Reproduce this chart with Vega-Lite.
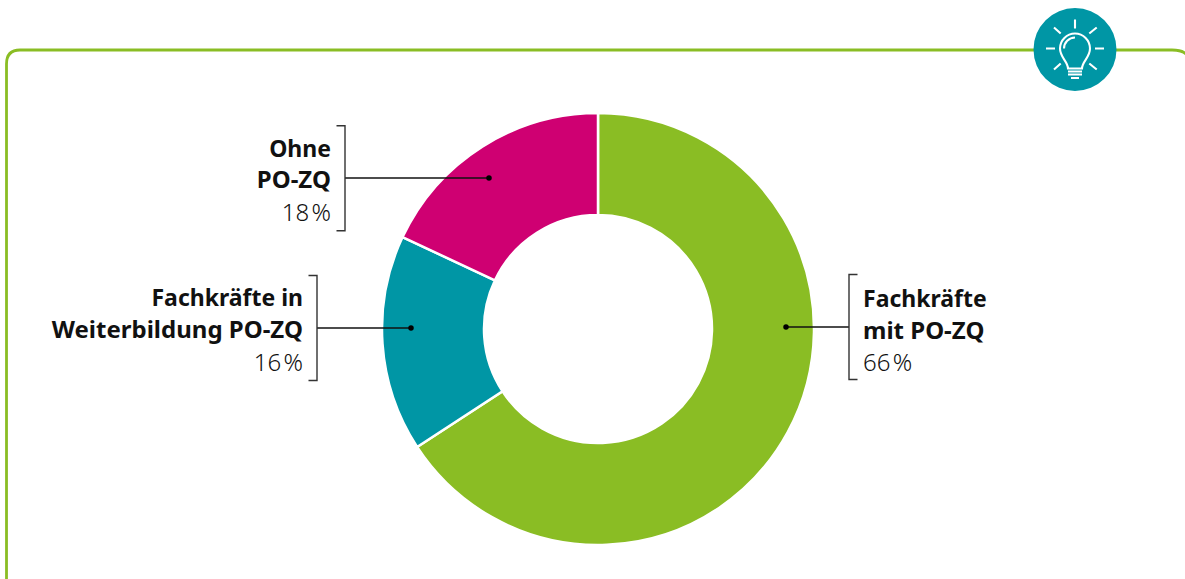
{"$schema":"https://vega.github.io/schema/vega-lite/v6.json","width":1185,"height":579,"padding":0,"autosize":{"type":"none"},"background":"white","config":{"view":{"stroke":null},"axis":{"disable":true},"legend":{"disable":true},"text":{"font":"Noto Sans","fontSize":23,"color":"#111111"}},
"data":{"values":[
{"segment":"Fachkräfte mit PO-ZQ","share":65.8,"rank":1,"line1":"Fachkräfte","line2":"mit PO-ZQ","pct":"66\u200a%"},
{"segment":"Fachkräfte in Weiterbildung PO-ZQ","share":16.2,"rank":2,"line1":"Fachkräfte in","line2":"Weiterbildung PO-ZQ","pct":"16\u200a%"},
{"segment":"Ohne PO-ZQ","share":18,"rank":3,"line1":"Ohne","line2":"PO-ZQ","pct":"18\u200a%"}]},
"layer":[
{"data":{"values":[{"part":"frame"}]},"mark":{"type":"point","shape":"M6.5 579V64Q6.5 50 20 50H1172Q1182 50 1186 54","size":4,"filled":false,"stroke":"#8abd24","strokeWidth":2.8,"opacity":1},
"encoding":{"x":{"datum":0,"type":"quantitative","scale":{"domain":[0,1185],"range":[0,1185]}},"y":{"datum":0,"type":"quantitative","scale":{"domain":[0,579],"range":[0,579]}}}},
{"data":{"values":[{"part":"icon"}]},"mark":{"type":"point","shape":"circle","size":6889,"filled":true,"fill":"#0096a5","opacity":1},
"encoding":{"x":{"datum":1075,"type":"quantitative","scale":{"domain":[0,1185],"range":[0,1185]}},"y":{"datum":49.5,"type":"quantitative","scale":{"domain":[0,579],"range":[0,579]}}}},
{"data":{"values":[{"part":"bulb"}]},"mark":{"type":"point","shape":"M0 -30V-21M-29 -1H-20M20 -1H29M-21 -22L-14.3 -16M21.7 -22L14.3 -16M-21 20L-14.3 14M21.7 20L14.3 14M-7 19C-7 12 -15 8 -15 -1A15 15 0 1 1 15 -1C15 8 7 12 7 19ZM-11 -1A11 11 0 0 1 0 -12M-7 22H7M-7 25H7M-4 28.5H4","size":4,"filled":false,"stroke":"white","strokeWidth":2.1,"opacity":1},
"encoding":{"x":{"datum":1075,"type":"quantitative","scale":{"domain":[0,1185],"range":[0,1185]}},"y":{"datum":49.5,"type":"quantitative","scale":{"domain":[0,579],"range":[0,579]}}}},
{"mark":{"type":"arc","outerRadius":216,"innerRadius":114,"stroke":"white","strokeWidth":2.5},
"encoding":{"theta":{"field":"share","type":"quantitative","stack":true,"scale":{"domain":[0,100]}},"order":{"field":"rank","type":"ordinal"},
"color":{"field":"segment","type":"nominal","sort":["Fachkräfte mit PO-ZQ","Fachkräfte in Weiterbildung PO-ZQ","Ohne PO-ZQ"],"scale":{"domain":["Fachkräfte mit PO-ZQ","Fachkräfte in Weiterbildung PO-ZQ","Ohne PO-ZQ"],"range":["#8abd24","#0096a5","#cf0072"]}},
"x":{"datum":598,"type":"quantitative","scale":{"domain":[0,1185],"range":[0,1185]}},"y":{"datum":329,"type":"quantitative","scale":{"domain":[0,579],"range":[0,579]}}}},
{"transform":[{"filter":"datum.rank==1"}],"layer":[
{"mark":{"type":"rule","color":"#111111","strokeWidth":1.3},"encoding":{"x":{"datum":786,"type":"quantitative","scale":{"domain":[0,1185],"range":[0,1185]}},"x2":{"datum":849},"y":{"datum":327,"type":"quantitative","scale":{"domain":[0,579],"range":[0,579]}}}},
{"mark":{"type":"point","shape":"circle","size":30,"filled":true,"fill":"#000000","opacity":1},"encoding":{"x":{"datum":786,"type":"quantitative","scale":{"domain":[0,1185],"range":[0,1185]}},"y":{"datum":327,"type":"quantitative","scale":{"domain":[0,579],"range":[0,579]}}}},
{"mark":{"type":"point","shape":"M8.5 -52.5H0V52.5H8.5","size":4,"filled":false,"stroke":"#333333","strokeWidth":1.4,"opacity":1},"encoding":{"x":{"datum":849,"type":"quantitative","scale":{"domain":[0,1185],"range":[0,1185]}},"y":{"datum":327,"type":"quantitative","scale":{"domain":[0,579],"range":[0,579]}}}},
{"mark":{"type":"text","align":"left","baseline":"alphabetic","fontWeight":"bold"},"encoding":{"text":{"field":"line1"},"x":{"datum":863,"type":"quantitative","scale":{"domain":[0,1185],"range":[0,1185]}},"y":{"datum":307,"type":"quantitative","scale":{"domain":[0,579],"range":[0,579]}}}},
{"mark":{"type":"text","align":"left","baseline":"alphabetic","fontWeight":"bold","fontSize":24},"encoding":{"text":{"field":"line2"},"x":{"datum":863,"type":"quantitative","scale":{"domain":[0,1185],"range":[0,1185]}},"y":{"datum":339,"type":"quantitative","scale":{"domain":[0,579],"range":[0,579]}}}},
{"mark":{"type":"text","align":"left","baseline":"alphabetic","fontWeight":300,"fontSize":24},"encoding":{"text":{"field":"pct"},"x":{"datum":863,"type":"quantitative","scale":{"domain":[0,1185],"range":[0,1185]}},"y":{"datum":371,"type":"quantitative","scale":{"domain":[0,579],"range":[0,579]}}}}
]},
{"transform":[{"filter":"datum.rank==2"}],"layer":[
{"mark":{"type":"rule","color":"#111111","strokeWidth":1.3},"encoding":{"x":{"datum":411,"type":"quantitative","scale":{"domain":[0,1185],"range":[0,1185]}},"x2":{"datum":317},"y":{"datum":328,"type":"quantitative","scale":{"domain":[0,579],"range":[0,579]}}}},
{"mark":{"type":"point","shape":"circle","size":30,"filled":true,"fill":"#000000","opacity":1},"encoding":{"x":{"datum":411,"type":"quantitative","scale":{"domain":[0,1185],"range":[0,1185]}},"y":{"datum":328,"type":"quantitative","scale":{"domain":[0,579],"range":[0,579]}}}},
{"mark":{"type":"point","shape":"M-8.5 -52.5H0V52.5H-8.5","size":4,"filled":false,"stroke":"#333333","strokeWidth":1.4,"opacity":1},"encoding":{"x":{"datum":317,"type":"quantitative","scale":{"domain":[0,1185],"range":[0,1185]}},"y":{"datum":328,"type":"quantitative","scale":{"domain":[0,579],"range":[0,579]}}}},
{"mark":{"type":"text","align":"right","baseline":"alphabetic","fontWeight":"bold"},"encoding":{"text":{"field":"line1"},"x":{"datum":303,"type":"quantitative","scale":{"domain":[0,1185],"range":[0,1185]}},"y":{"datum":306,"type":"quantitative","scale":{"domain":[0,579],"range":[0,579]}}}},
{"mark":{"type":"text","align":"right","baseline":"alphabetic","fontWeight":"bold","fontSize":24},"encoding":{"text":{"field":"line2"},"x":{"datum":303,"type":"quantitative","scale":{"domain":[0,1185],"range":[0,1185]}},"y":{"datum":338,"type":"quantitative","scale":{"domain":[0,579],"range":[0,579]}}}},
{"mark":{"type":"text","align":"right","baseline":"alphabetic","fontWeight":300,"fontSize":24},"encoding":{"text":{"field":"pct"},"x":{"datum":303,"type":"quantitative","scale":{"domain":[0,1185],"range":[0,1185]}},"y":{"datum":371,"type":"quantitative","scale":{"domain":[0,579],"range":[0,579]}}}}
]},
{"transform":[{"filter":"datum.rank==3"}],"layer":[
{"mark":{"type":"rule","color":"#111111","strokeWidth":1.3},"encoding":{"x":{"datum":489,"type":"quantitative","scale":{"domain":[0,1185],"range":[0,1185]}},"x2":{"datum":345},"y":{"datum":178,"type":"quantitative","scale":{"domain":[0,579],"range":[0,579]}}}},
{"mark":{"type":"point","shape":"circle","size":30,"filled":true,"fill":"#000000","opacity":1},"encoding":{"x":{"datum":489,"type":"quantitative","scale":{"domain":[0,1185],"range":[0,1185]}},"y":{"datum":178,"type":"quantitative","scale":{"domain":[0,579],"range":[0,579]}}}},
{"mark":{"type":"point","shape":"M-8.5 -52.5H0V52.5H-8.5","size":4,"filled":false,"stroke":"#333333","strokeWidth":1.4,"opacity":1},"encoding":{"x":{"datum":345,"type":"quantitative","scale":{"domain":[0,1185],"range":[0,1185]}},"y":{"datum":178.3,"type":"quantitative","scale":{"domain":[0,579],"range":[0,579]}}}},
{"mark":{"type":"text","align":"right","baseline":"alphabetic","fontWeight":"bold"},"encoding":{"text":{"field":"line1"},"x":{"datum":331,"type":"quantitative","scale":{"domain":[0,1185],"range":[0,1185]}},"y":{"datum":157,"type":"quantitative","scale":{"domain":[0,579],"range":[0,579]}}}},
{"mark":{"type":"text","align":"right","baseline":"alphabetic","fontWeight":"bold","fontSize":24},"encoding":{"text":{"field":"line2"},"x":{"datum":331,"type":"quantitative","scale":{"domain":[0,1185],"range":[0,1185]}},"y":{"datum":188,"type":"quantitative","scale":{"domain":[0,579],"range":[0,579]}}}},
{"mark":{"type":"text","align":"right","baseline":"alphabetic","fontWeight":300,"fontSize":24},"encoding":{"text":{"field":"pct"},"x":{"datum":331,"type":"quantitative","scale":{"domain":[0,1185],"range":[0,1185]}},"y":{"datum":221,"type":"quantitative","scale":{"domain":[0,579],"range":[0,579]}}}}
]}
]}
